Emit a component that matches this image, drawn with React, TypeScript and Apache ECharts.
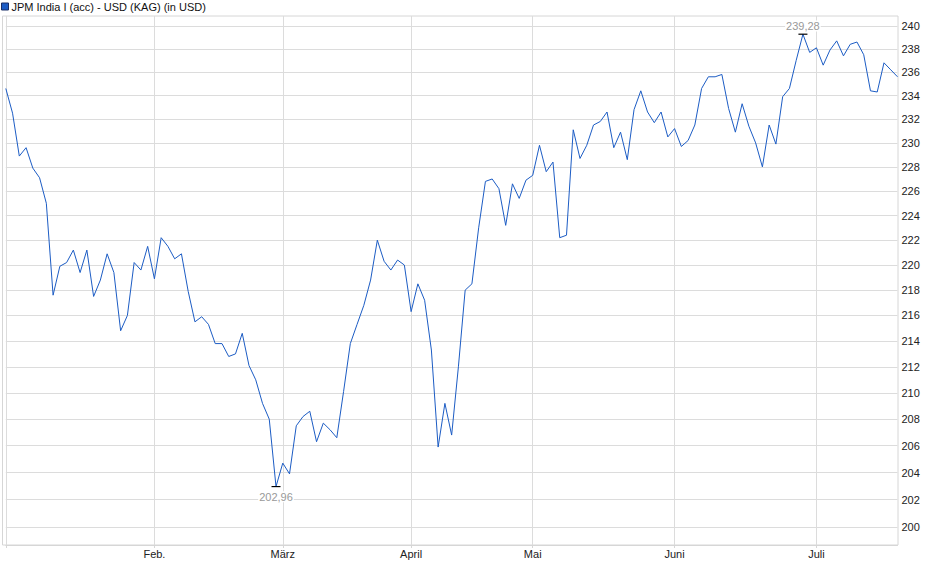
import { useEffect, useRef } from 'react'
import * as echarts from 'echarts'

const seriesName = 'JPM India I (acc) - USD (KAG) (in USD)'

// Daily prices, 2 Jan 2025 to mid July (fund pricing days)
const prices = [
  234.6, 232.5, 228.9, 229.6, 227.9, 227.1, 225.0, 217.6, 219.9, 220.2,
  221.2, 219.4, 221.2, 217.5, 218.8, 220.9, 219.4, 214.8, 216.0, 220.2,
  219.6, 221.5, 218.9, 222.2, 221.5, 220.5, 220.9, 217.9, 215.5, 215.9,
  215.3, 213.8, 213.8, 212.8, 213.0, 214.6, 212.1, 211.0, 209.2, 208.0,
  202.96, 204.7, 203.9, 207.5, 208.2, 208.6, 206.3, 207.7, 207.2, 206.6,
  210.1, 213.8, 215.3, 216.8, 218.8, 222.0, 220.3, 219.6, 220.4, 220.0,
  216.3, 218.5, 217.2, 213.3, 205.9, 209.2, 206.8, 212.0, 218.0, 218.5,
  223.0, 226.8, 227.0, 226.2, 223.2, 226.6, 225.4, 226.9, 227.3, 229.8,
  227.6, 228.4, 222.2, 222.4, 231.1, 228.7, 229.8, 231.5, 231.8, 232.6,
  229.6, 230.9, 228.6, 232.8, 234.4, 232.6, 231.7, 232.6, 230.5, 231.2,
  229.7, 230.2, 231.5, 234.6, 235.6, 235.6, 235.8, 232.9, 230.9, 233.3,
  231.4, 230.0, 228.0, 231.5, 229.9, 233.9, 234.6, 237.0, 239.28, 237.7,
  238.1, 236.6, 237.9, 238.7, 237.4, 238.4, 238.6, 237.5, 234.4, 234.3,
  236.8, 236.2, 235.6
]

// first pricing day of each month (index into prices)
const monthLabels = ['Feb.', 'März', 'April', 'Mai', 'Juni', 'Juli']
const monthStart = [22, 41, 60, 78, 99, 120]

const yTicks = [
  200, 202, 204, 206, 208, 210, 212, 214, 216, 218, 220,
  222, 224, 226, 228, 230, 232, 234, 236, 238, 240
]

const categories = prices.map((_, i) => {
  const k = monthStart.indexOf(i)
  return k >= 0 ? monthLabels[k] : String(i)
})

const fmt = (v: number) => v.toFixed(2).replace('.', ',')

export default function App() {
  const chartRef = useRef<HTMLDivElement>(null)

  useEffect(() => {
    if (!chartRef.current) return
    document.body.style.margin = '0'

    const chart = echarts.init(chartRef.current, null, { renderer: 'svg' })

    const isMonth = (i: number) => monthStart.indexOf(i) >= 0
    const isGrid = (i: number) => i === 0 || isMonth(i)

    const option = {
      animation: false,
      textStyle: { fontFamily: 'Liberation Sans, Arial, sans-serif' },
      legend: {
        data: [seriesName],
        left: 1,
        top: 1,
        padding: 0,
        icon: 'rect',
        itemWidth: 7,
        itemHeight: 7,
        itemStyle: { borderColor: '#1b2f66', borderWidth: 1 },
        textStyle: { fontSize: 11, color: '#111', padding: [0, 0, 0, -2] },
        selectedMode: false
      },
      graphic: [
        {
          type: 'rect',
          shape: { x: 2.5, y: 16, width: 895.5, height: 529 },
          style: { fill: 'none', stroke: '#d6d6d6', lineWidth: 1 },
          silent: true,
          z: 0
        }
      ],
      grid: {
        left: 5.8,
        right: 42.5,
        top: 16,
        bottom: 34,
        containLabel: false
      },
      xAxis: {
        type: 'category',
        data: categories,
        boundaryGap: false,
        axisLine: { lineStyle: { color: '#d6d6d6' } },
        axisTick: {
          show: true,
          interval: (i: number) => isGrid(i),
          length: 3,
          lineStyle: { color: '#d6d6d6' }
        },
        axisLabel: {
          interval: (i: number) => isMonth(i),
          color: '#222',
          fontSize: 11,
          margin: 3
        },
        splitLine: {
          show: true,
          interval: (i: number) => isGrid(i),
          lineStyle: { color: '#dcdcdc', width: 1 }
        }
      },
      yAxis: {
        type: 'log',
        position: 'right',
        min: 198.69,
        max: 240.87,
        axisLine: { show: false },
        axisTick: { show: false },
        axisLabel: { show: false },
        splitLine: { show: false }
      },
      series: [
        {
          name: seriesName,
          type: 'line',
          data: prices,
          symbol: 'none',
          z: 3,
          itemStyle: { color: '#1c5cc4' },
          lineStyle: { color: '#1c5cc4', width: 1 },
          markLine: {
            z: 1,
            silent: true,
            symbol: ['none', 'none'],
            lineStyle: { color: '#dcdcdc', width: 1, type: 'solid' },
            label: {
              show: true,
              position: 'end',
              distance: 4,
              color: '#222',
              fontSize: 11,
              formatter: (p: any) => String(p.value)
            },
            emphasis: { disabled: true },
            data: yTicks.map(v => ({ yAxis: v }))
          },
          markPoint: {
            silent: true,
            symbol: 'rect',
            symbolSize: [9, 1.2],
            itemStyle: { color: '#000' },
            label: {
              show: true,
              color: '#999',
              fontSize: 11,
              backgroundColor: '#fff',
              padding: [0, 1],
              formatter: (p: any) => fmt(p.value)
            },
            data: [
              { type: 'max', name: 'max', label: { position: 'top', distance: 2 } },
              { type: 'min', name: 'min', label: { position: 'bottom', distance: 4 } }
            ]
          }
        }
      ]
    }

    chart.setOption(option)

    return () => {
      chart.dispose()
    }
  }, [])

  return <div ref={chartRef} style={{ width: 940, height: 579 }} />
}
